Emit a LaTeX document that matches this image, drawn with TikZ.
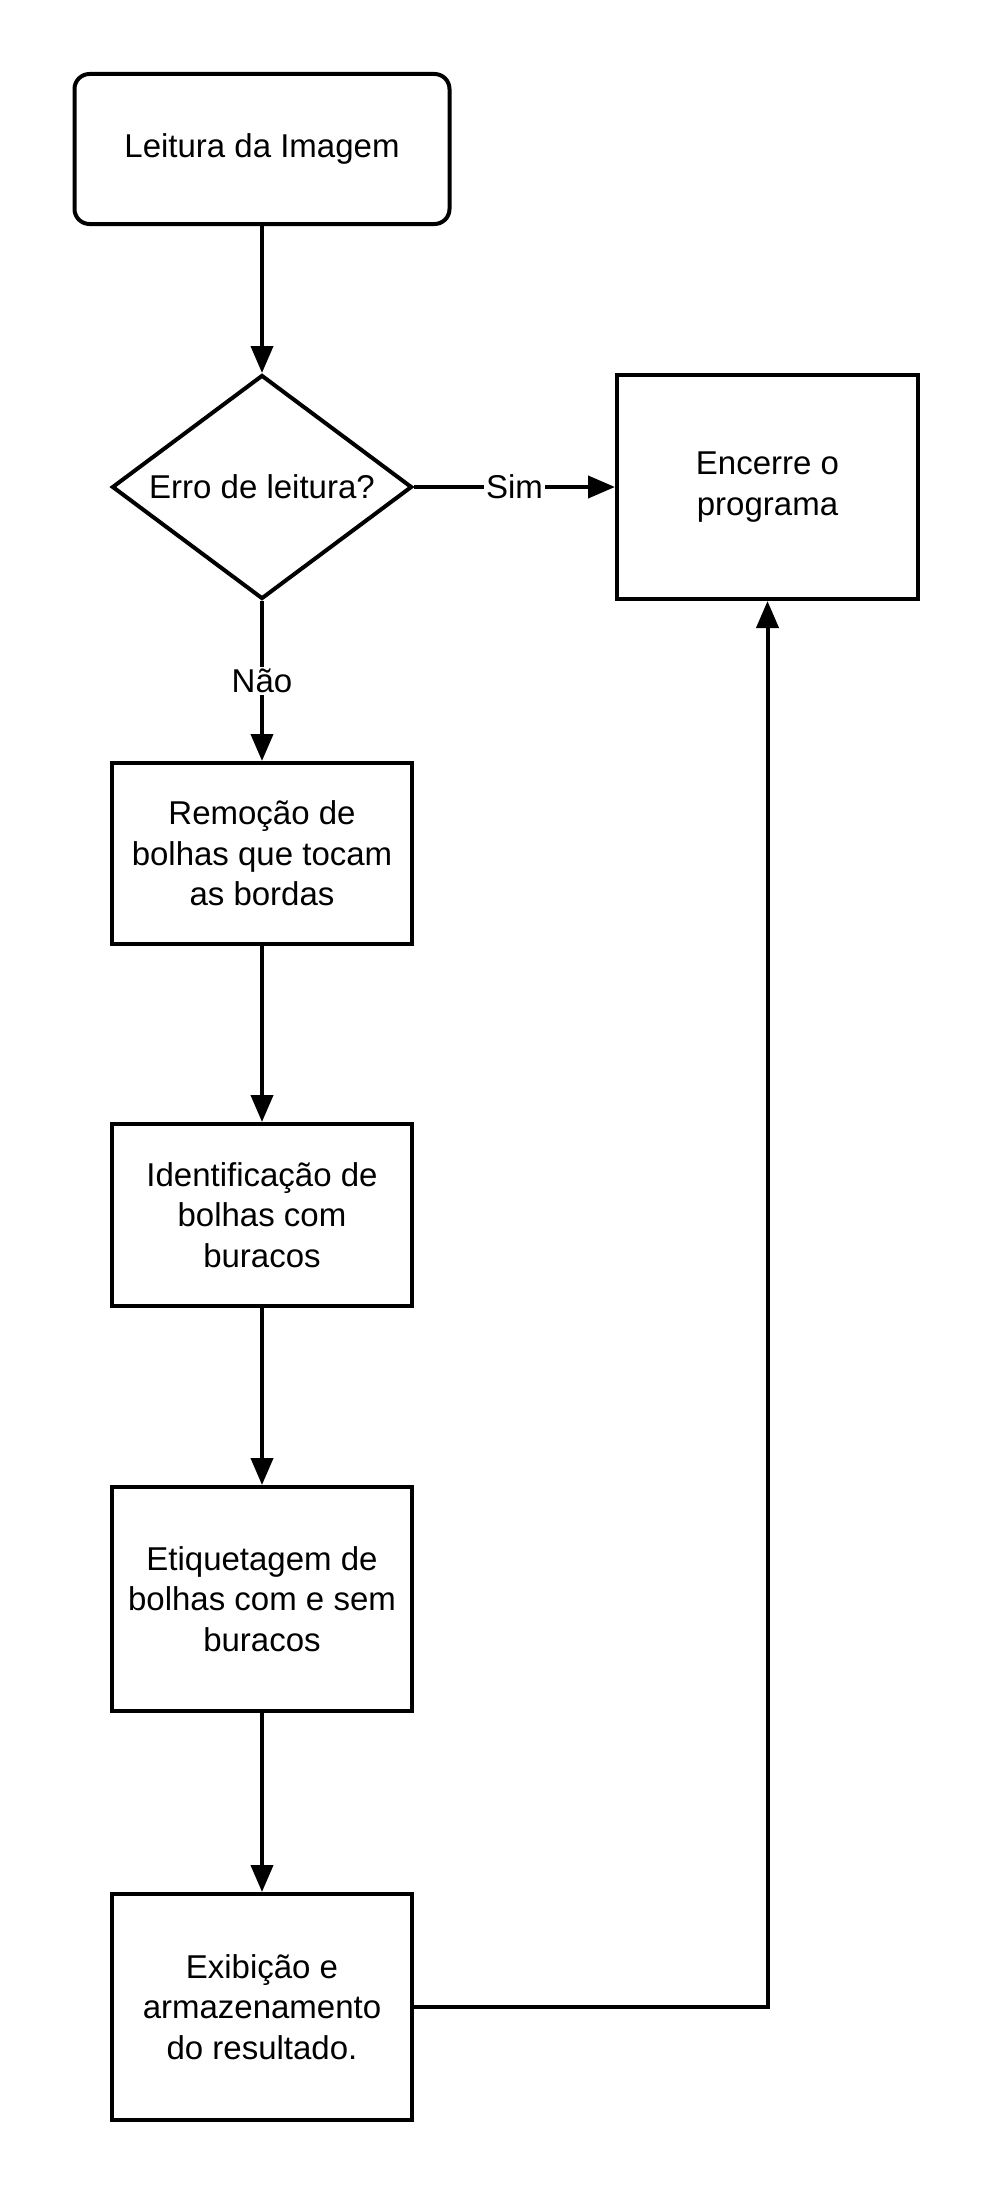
\documentclass[tikz,border=0pt]{standalone}
\usepackage{fontspec}
\setmainfont{Liberation Sans}
\usetikzlibrary{shapes.geometric,arrows.meta}
\begin{document}
\begin{tikzpicture}[x=1pt,y=-1pt, line width=4pt,
  every node/.style={font=\fontsize{33}{40.5}\selectfont},
  box/.style={draw, rectangle, minimum width=300pt, align=center, inner sep=0pt},
  dec/.style={draw, diamond, minimum width=300pt, minimum height=224pt, aspect=1.34, inner sep=0pt, align=center},
  arr/.style={-{Triangle[length=27pt,width=22pt]}},
  lbl/.style={fill=white, inner sep=2pt}]
\useasboundingbox (0,0) rectangle (994,2194);
\node[box, minimum width=375pt, minimum height=150pt, rounded corners=15pt] (start) at (262,149) {Leitura da Imagem};
\node[dec] (err) at (262,487) {Erro de leitura?};
\node[box, minimum width=301pt, minimum height=224pt] (end) at (767.5,487) {Encerre o\\programa};
\node[box, minimum height=181pt] (rem) at (262,853.5) {Remoção de\\bolhas que tocam\\as bordas};
\node[box, minimum height=182pt] (ident) at (262,1215) {Identificação de\\bolhas com\\buracos};
\node[box, minimum height=224pt] (etiq) at (262,1599) {Etiquetagem de\\bolhas com e sem\\buracos};
\node[box, minimum height=226pt] (exib) at (262,2007) {Exibição e\\armazenamento\\do resultado.};
\draw[arr] (start) -- (err);
\draw[arr] (err) -- node[lbl] {Sim} (end);
\draw[arr] (err) -- node[lbl] {Não} (rem);
\draw[arr] (rem) -- (ident);
\draw[arr] (ident) -- (etiq);
\draw[arr] (etiq) -- (exib);
\draw[arr] (exib.east) -| (end.south);
\end{tikzpicture}
\end{document}
